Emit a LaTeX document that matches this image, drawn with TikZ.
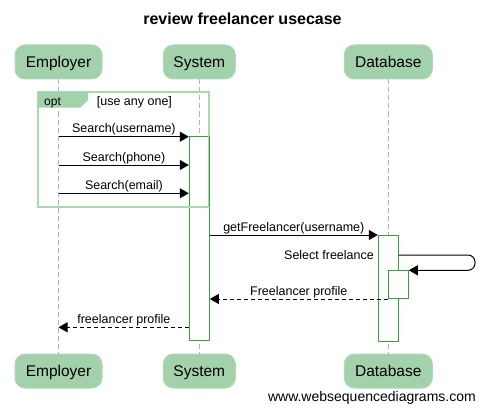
\documentclass[tikz,border=0pt]{standalone}
\usepackage{fontspec}
\setmainfont{Liberation Sans}
\usetikzlibrary{arrows.meta}
\definecolor{actfill}{HTML}{A3D1AB}
\definecolor{framegreen}{HTML}{AAD8B2}
\definecolor{actline}{HTML}{3C9E3C}
\definecolor{lifegray}{HTML}{B4B4B4}
\tikzset{
  actor/.style={fill=actfill, draw=actfill!85!white, line width=1pt, rounded corners=10pt, minimum height=34pt, inner sep=0pt, text height=11pt, text depth=0pt, font=\fontsize{15.5}{18}\selectfont},
  life/.style={draw=lifegray, line width=1pt, dash pattern=on 5pt off 3pt},
  actbox/.style={draw=actline, fill=white, line width=1pt, minimum width=20pt, inner sep=0pt},
  msg/.style={draw=black, line width=1pt, -{Triangle[length=9pt,width=10pt]}},
  ret/.style={msg, dash pattern=on 4pt off 3pt},
  lbl/.style={font=\fontsize{12.5}{14}\selectfont, inner sep=0pt, anchor=base},
}
\begin{document}
\begin{tikzpicture}[x=1pt,y=-1pt]
\useasboundingbox (0,0) rectangle (485,412);
% title
\node[font=\fontsize{16}{18}\selectfont\bfseries, anchor=base, inner sep=0pt] (title) at (242.5,25) {review freelancer usecase};
% actors
\node[actor, minimum width=87pt] (eT) at (58.5,62) {Employer};
\node[actor, minimum width=72pt] (sT) at (199.3,62) {System};
\node[actor, minimum width=88pt] (dT) at (388.3,62) {Database};
\node[actor, minimum width=87pt] (eB) at (58.5,371) {Employer};
\node[actor, minimum width=72pt] (sB) at (199.3,371) {System};
\node[actor, minimum width=88pt] (dB) at (388.3,371) {Database};
% lifelines
\draw[life] (eT.south) -- (eB.north);
\draw[life] (sT.south) -- (sB.north);
\draw[life] (dT.south) -- (dB.north);
% activation boxes
\node[actbox, minimum height=203.3pt] (actS) at (199.3,238.35) {};
\node[actbox, minimum height=106pt] (actD) at (388.3,288) {};
\node[actbox, minimum height=28pt] (actN) at (398.3,284.3) {};
% opt frame
\draw[framegreen, line width=2pt] (38.3,92.3) rectangle (209,206.7);
\fill[actfill] (38.3,92.3) -- (88,92.3) -- (88,100) -- (80.5,107.7) -- (38.3,107.7) -- cycle;
\node[lbl, font=\fontsize{12}{14}\selectfont, anchor=base west] (optl) at (44,105.3) {opt};
\node[lbl, font=\fontsize{12.5}{14}\selectfont, anchor=base west] (cond) at (96.7,105.3) {[use any one]};
\draw[actline, line width=1pt] (actS.north east) -- (actS.east |- 206.7,206.7);
% message anchors on lifelines
\coordinate (m1) at (58.5,136.7);
\coordinate (m2) at (58.5,165);
\coordinate (m3) at (58.5,193.3);
\coordinate (m4) at (199.3,235);
\coordinate (m5) at (398.3,255);
\coordinate (m5r) at (475,255);
\coordinate (m5b) at (475,270.3);
\coordinate (m6) at (388.3,299);
\coordinate (m7) at (199.3,327.3);
\coordinate (m7e) at (58.5,327.3);
% messages
\draw[msg] (m1) -- (actS.west |- m1);
\node[lbl] (l1) at (123.9,132.7) {Search(username)};
\draw[msg] (m2) -- (actS.west |- m2);
\node[lbl] (l2) at (123.9,161) {Search(phone)};
\draw[msg] (m3) -- (actS.west |- m3);
\node[lbl] (l3) at (123.9,189.3) {Search(email)};
\draw[msg] (actS.east |- m4) -- (actD.west |- m4);
\node[lbl] (l4) at (293.8,231.5) {getFreelancer(username)};
\draw[msg, rounded corners=7pt] (actD.east |- m5) -- (m5r) -- (m5b) -- (actN.east |- m5b);
\node[lbl, anchor=base east] (l5) at (374,259.5) {Select freelance};
\draw[ret] (actN.west |- m6) -- (actS.east |- m6);
\node[lbl] (l6) at (298.8,295) {Freelancer profile};
\draw[ret] (actS.west |- m7) -- (m7e);
\node[lbl] (l7) at (123.9,323.8) {freelancer profile};
% watermark
\node[font=\fontsize{14}{16}\selectfont, anchor=base east, inner sep=0pt] (wm) at (476,401.5) {www.websequencediagrams.com};
\end{tikzpicture}
\end{document}
